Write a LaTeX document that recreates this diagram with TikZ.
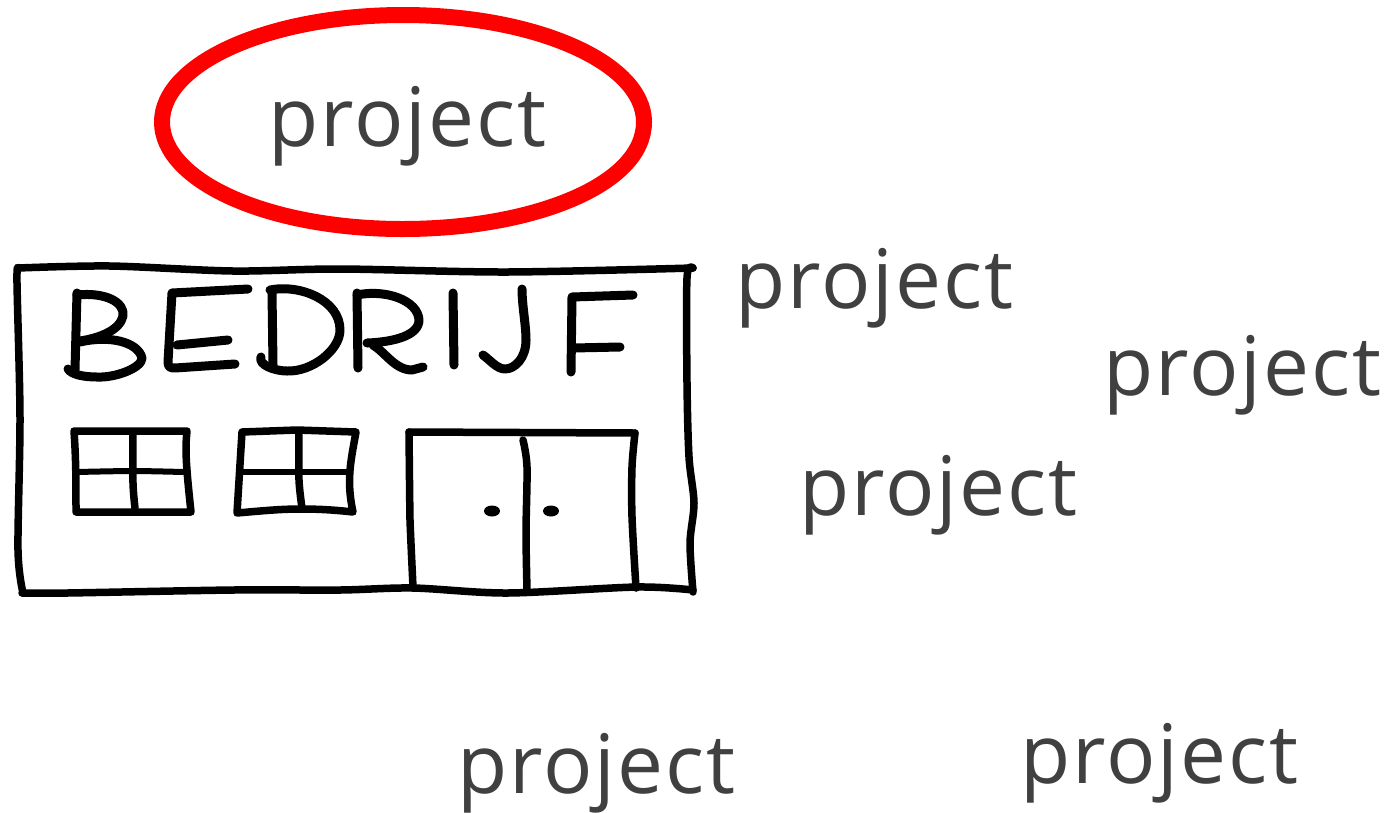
\documentclass[tikz,border=0pt]{standalone}
\usepackage{fontspec}
\setmainfont{Open Sans}[LetterSpace=2.5]
\definecolor{txt}{HTML}{404040}
\tikzset{
 sketch/.style={draw=black,line width=7.5pt,line cap=round,line join=round},
 letter/.style={sketch,line width=9pt},
 proj/.style={text=txt,inner sep=0pt,anchor=base west,font=\fontsize{82}{90}\selectfont}
}
\begin{document}
\begin{tikzpicture}[x=1pt,y=-1pt]
\useasboundingbox (0,0) rectangle (1391,812);
% ellipse
\draw[draw=red,line width=16pt] (162,122) .. controls (162,63) and (270,15) .. (403,15) .. controls (536,15) and (644,63) .. (644,122) .. controls (644,186) and (530,229) .. (403,229) .. controls (265,229) and (162,180) .. cycle;
% outline
\draw[sketch] plot[smooth,tension=0.5] coordinates{(18,268)(110,266)(233,271)(340,269)(507,272)(693,268)};
\draw[sketch] plot[smooth,tension=0.5] coordinates{(693,268)(687,278)(687,383)(689,457)(694,503)(690,543)(693,592)};
\draw[sketch] plot[smooth,tension=0.5] coordinates{(693,590)(637,587)(507,593)(413,588)(340,590)(233,590)(67,593)(22,593)};
\draw[sketch] plot[smooth,tension=0.5] coordinates{(23,593)(18,550)(20,417)(17,283)(18,268)};
% B
\draw[letter] (77,293) -- (75,370);
\draw[letter] (77,295) .. controls (105,292) and (125,302) .. (123,316) .. controls (120,330) and (100,338) .. (80,341);
\draw[letter] (80,342) .. controls (110,335) and (138,342) .. (142,358) .. controls (142,368) and (115,378) .. (97,377) .. controls (85,377) and (72,375) .. (68,369);
% E
\draw[letter] (248,289) -- (172,293) -- (168,362) .. controls (168,367) and (170,368) .. (175,368) -- (235,364);
\draw[letter] (177,345) -- (228,340);
% D
\draw[letter] (270,290) .. controls (300,284) and (340,300) .. (340,330) .. controls (340,350) and (312,372) .. (287,371) .. controls (275,371) and (258,365) .. (261,357);
\draw[letter] (272,292) -- (273,365);
% R
\draw[letter] (357,293) -- (358,368);
\draw[letter] (357,295) .. controls (385,289) and (418,300) .. (419,320) .. controls (419,335) and (395,342) .. (367,343);
\draw[letter] (373,345) .. controls (385,352) and (395,370) .. (412,370) -- (423,367);
% I
\draw[letter] (453,293) -- (454,365);
% J
\draw[letter] (522,289) .. controls (522,305) and (526,325) .. (526,340) .. controls (526,358) and (515,369) .. (505,369) .. controls (497,369) and (490,360) .. (483,355);
% F
\draw[letter] (633,295) -- (572,297) -- (571,372);
\draw[letter] (573,348) -- (620,347);
% window 1
\draw[sketch] (74,431) -- (187,431) .. controls (185,450) and (186,465) .. (191,512) -- (133,512) -- (76,512) .. controls (76,480) and (76,460) .. cycle;
\draw[sketch] plot[smooth] coordinates{(133,432)(133,483)(135,508)};
\draw[sketch,line width=6pt] plot[smooth] coordinates{(77,472)(133,471)(183,472)};
% window 2
\draw[sketch] (242,432) -- (297,430) -- (356,432) .. controls (351,460) and (346,480) .. (353,512) .. controls (335,510) and (320,509) .. (300,509) .. controls (280,509) and (260,511) .. (237,513) -- cycle;
\draw[sketch] plot[smooth] coordinates{(299,432)(299,480)(302,508)};
\draw[sketch,line width=6pt] (242,472) -- (348,472);
% door
\draw[sketch] plot[smooth,tension=0.2] coordinates{(413,587)(410,520)(409,432)};
\draw[sketch] (409,432) -- (635,433);
\draw[sketch] plot[smooth,tension=0.5] coordinates{(635,433)(632,467)(632,517)(636,588)};
\draw[sketch] plot[smooth,tension=0.5] coordinates{(523,440)(527,467)(526,533)(527,590)};
\fill[black] (492,511) ellipse (8 and 5.5);
\fill[black] (551,511) ellipse (8 and 5.5);
% labels
\node[proj] (p1) at (268,146) {project};
\node[proj] (p2) at (735,308) {project};
\node[proj] (p3) at (1103,395) {project};
\node[proj] (p4) at (799,515) {project};
\node[proj] (p5) at (457,793) {project};
\node[proj] (p6) at (1020,783) {project};
\end{tikzpicture}
\end{document}
